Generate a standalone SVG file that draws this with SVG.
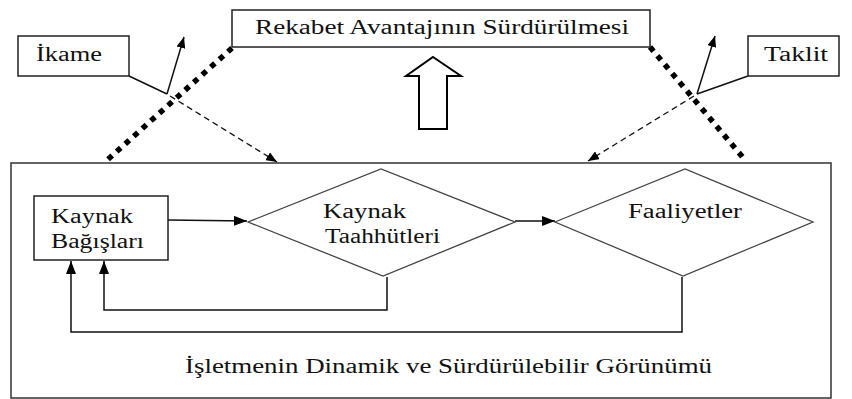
<svg xmlns="http://www.w3.org/2000/svg" width="852" height="399" viewBox="0 0 852 399">
<style>
  .box{fill:#fff;stroke:#222;stroke-width:1.5}
  .frame{fill:none;stroke:#333;stroke-width:1.5}
  .t{font-family:'Liberation Serif','DejaVu Serif',serif;font-size:20.5px;fill:#111}
  .ln{fill:none;stroke:#111;stroke-width:1.5}
  .dot{fill:none;stroke:#000;stroke-width:5.5;stroke-dasharray:5.5 6}
  .dash{fill:none;stroke:#111;stroke-width:1.3;stroke-dasharray:6 4}
</style>
<defs>
  <marker id="ah" viewBox="0 0 13 10" refX="13" refY="5" markerWidth="13" markerHeight="10" orient="auto" markerUnits="userSpaceOnUse">
    <path d="M0,0 L13,5 L0,10 z" fill="#000"/>
  </marker>
  <marker id="ahs" viewBox="0 0 11 9" refX="11" refY="4.5" markerWidth="11" markerHeight="9" orient="auto" markerUnits="userSpaceOnUse">
    <path d="M0,0 L11,4.5 L0,9 z" fill="#000"/>
  </marker>
</defs>
<rect width="852" height="399" fill="#fff"/>

<g id="frame">
  <rect class="frame" x="11" y="163" width="820" height="235"/>
  <text class="t" x="185" y="373" textLength="527" lengthAdjust="spacingAndGlyphs">İşletmenin Dinamik ve Sürdürülebilir Görünümü</text>
</g>

<g id="connectors">
  <path class="dot" d="M232,48 L105,162"/>
  <path class="dot" d="M650,47 L745,160"/>
  <path class="ln" d="M129,76 L167,94"/>
  <path class="ln" d="M167,94 L184,37" marker-end="url(#ahs)"/>
  <path class="dash" d="M170,96 L277,162" marker-end="url(#ahs)"/>
  <path class="ln" d="M748,76 L697,94"/>
  <path class="ln" d="M697,94 L715,36" marker-end="url(#ahs)"/>
  <path class="dash" d="M694,96 L588,161" marker-end="url(#ahs)"/>
  <path d="M433,57 L461,76 L447,76 L447,129 L419,129 L419,76 L406,76 Z" fill="#fff" stroke="#000" stroke-width="2"/>
  <path class="ln" d="M168,220 L247,221" marker-end="url(#ah)"/>
  <path class="ln" d="M515,221 L555,221" marker-end="url(#ah)"/>
  <path class="ln" d="M387,277 L387,310 L104,310 L104,261" marker-end="url(#ah)"/>
  <path class="ln" d="M682,277 L682,332 L71,332 L71,261" marker-end="url(#ah)"/>
</g>

<g id="rekabet">
  <rect class="box" x="232" y="10" width="418" height="37"/>
  <text class="t" x="255" y="34" textLength="374" lengthAdjust="spacingAndGlyphs">Rekabet Avantajının Sürdürülmesi</text>
</g>

<g id="ikame">
  <rect class="box" x="18" y="36" width="111" height="40"/>
  <text class="t" x="36" y="61" textLength="66" lengthAdjust="spacingAndGlyphs">İkame</text>
</g>

<g id="taklit">
  <rect class="box" x="748" y="36" width="91" height="40"/>
  <text class="t" x="764" y="61" textLength="64" lengthAdjust="spacingAndGlyphs">Taklit</text>
</g>

<g id="kaynak-bagislari">
  <rect class="box" x="34" y="196" width="134" height="64"/>
  <text class="t" x="51" y="223" textLength="82" lengthAdjust="spacingAndGlyphs">Kaynak</text>
  <text class="t" x="51" y="248" textLength="93" lengthAdjust="spacingAndGlyphs">Bağışları</text>
</g>

<g id="kaynak-taahhutleri">
  <path d="M248,222 L381,169 L515,222 L383,276 Z" fill="#fff" stroke="#444" stroke-width="1.3"/>
  <text class="t" x="323" y="218" textLength="83" lengthAdjust="spacingAndGlyphs">Kaynak</text>
  <text class="t" x="325" y="243" textLength="115" lengthAdjust="spacingAndGlyphs">Taahhütleri</text>
</g>

<g id="faaliyetler">
  <path d="M555,222 L685,169 L813,222 L683,276 Z" fill="#fff" stroke="#444" stroke-width="1.3"/>
  <text class="t" x="628" y="218" textLength="114" lengthAdjust="spacingAndGlyphs">Faaliyetler</text>
</g>
</svg>
